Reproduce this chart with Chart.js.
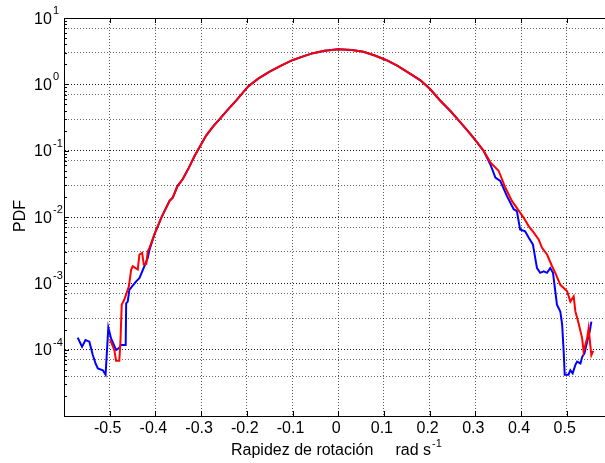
<!DOCTYPE html>
<html>
<head>
<meta charset="utf-8">
<script src="https://cdn.jsdelivr.net/npm/chart.js@4/dist/chart.umd.min.js"></script>
<style>
  html, body { margin: 0; padding: 0; background: #fff; overflow: hidden; }
  #wrap { width: 620px; height: 463px; }
</style>
</head>
<body>
<div id="wrap"><canvas id="pdf" width="620" height="463"></canvas></div>
<script>
// PDF of rotation rate, two runs on a log axis.
const FONT = "'Liberation Sans', Arial, sans-serif";

// central part, both runs overlap here
const coreRate = [-0.402, -0.387, -0.369, -0.362, -0.352, -0.340, -0.327, -0.314, -0.302, -0.289,
  -0.274, -0.259, -0.241, -0.223, -0.197, -0.175, -0.150, -0.125, -0.099, -0.075, -0.055, -0.030,
  0.000, 0.030, 0.055, 0.080, 0.106, 0.130, 0.157, 0.180, 0.201, 0.223, 0.245, 0.267, 0.289, 0.3035, 0.318];
const corePdf = [5.5e-3, 9.8e-3, 1.75e-2, 1.96e-2, 2.9e-2, 3.73e-2, 5.5e-2, 8.4e-2, 0.118, 0.169,
  0.23, 0.302, 0.42, 0.572, 0.93, 1.22, 1.55, 1.92, 2.33, 2.66, 2.95, 3.2,
  3.39, 3.3, 3.09, 2.72, 2.31, 1.9, 1.45, 1.15, 0.85, 0.57, 0.40, 0.27, 0.179, 0.134, 0.10];

// blue run tails
const blueLeftRate = [-0.570, -0.5605, -0.553, -0.5445, -0.537, -0.531, -0.526, -0.515, -0.509, -0.503,
  -0.497, -0.486, -0.479, -0.475, -0.465, -0.464, -0.4605, -0.457, -0.451, -0.442, -0.435, -0.424, -0.4167, -0.413];
const blueLeftPdf = [1.52e-4, 1.11e-4, 1.40e-4, 1.32e-4, 8.3e-5, 6.2e-5, 5.2e-5, 4.9e-5, 4.2e-5, 2.15e-4,
  1.48e-4, 9.9e-5, 1.07e-4, 1.18e-4, 1.18e-4, 5.0e-4, 5.3e-4, 8.0e-4, 9.0e-4, 1.07e-3, 1.2e-3, 1.81e-3, 2.42e-3, 3.2e-3];
const blueRightRate = [0.333, 0.344, 0.3546, 0.369, 0.384, 0.391, 0.398, 0.409, 0.4167, 0.426, 0.435,
  0.442, 0.4496, 0.457, 0.464, 0.470, 0.475, 0.4787, 0.486, 0.490, 0.4934, 0.4956, 0.504, 0.508, 0.513,
  0.519, 0.5228, 0.530, 0.534, 0.5388, 0.5447, 0.5504, 0.554];
const blueRightPdf = [6.2e-2, 3.94e-2, 3.5e-2, 2.08e-2, 1.31e-2, 1.23e-2, 6.5e-3, 6.1e-3, 4.9e-3, 3.86e-3, 1.7e-3,
  1.44e-3, 1.52e-3, 1.44e-3, 1.7e-3, 1.44e-3, 7.6e-4, 4.75e-4, 3.77e-4, 2.4e-4, 9.3e-5, 4.2e-5, 4.2e-5, 4.9e-5, 4.4e-5,
  5.9e-5, 6.6e-5, 6.2e-5, 7.8e-5, 8.8e-5, 1.32e-4, 1.87e-4, 2.65e-4];

// red run tails
const redLeftRate = [-0.499, -0.490, -0.486, -0.479, -0.4765, -0.4737, -0.468, -0.458, -0.453, -0.4496,
  -0.4386, -0.435, -0.429, -0.4254, -0.420, -0.4167, -0.413];
const redLeftPdf = [1.40e-4, 9.9e-5, 6.8e-5, 6.8e-5, 1.32e-4, 4.75e-4, 5.7e-4, 9.0e-4, 1.61e-3, 1.81e-3,
  1.61e-3, 2.72e-3, 2.88e-3, 1.92e-3, 1.96e-3, 3.05e-3, 3.43e-3];
const redRightRate = [0.333, 0.351, 0.3656, 0.380, 0.4057, 0.4167, 0.428, 0.4386, 0.446, 0.457, 0.468,
  0.475, 0.486, 0.501, 0.508, 0.5153, 0.519, 0.526, 0.5338, 0.537, 0.5447, 0.548, 0.552, 0.554, 0.558];
const redRightPdf = [6.66e-2, 4.98e-2, 2.78e-2, 1.75e-2, 9.8e-3, 7.3e-3, 5.8e-3, 4.6e-3, 3.43e-3, 2.72e-3, 1.81e-3,
  1.44e-3, 9.5e-4, 7.6e-4, 5.3e-4, 6.35e-4, 3.77e-4, 2.5e-4, 1.48e-4, 9.3e-5, 1.48e-4, 2.1e-4, 1.11e-4, 8.3e-5, 9.6e-5];

// axis ticks
const xTickLabels = [-0.5, -0.4, -0.3, -0.2, -0.1, 0, 0.1, 0.2, 0.3, 0.4, 0.5];
const yDecades = [-4, -3, -2, -1, 0, 1];

const pts = (xs, ys) => xs.map((x, i) => ({ x, y: ys[i] }));
const blue = pts([...blueLeftRate, ...coreRate, ...blueRightRate], [...blueLeftPdf, ...corePdf, ...blueRightPdf]);
const red = pts([...redLeftRate, ...coreRate, ...redRightRate], [...redLeftPdf, ...corePdf, ...redRightPdf]);

// box, inward ticks, superscript labels and titles
const frame = {
  id: "frame",
  afterDraw(chart) {
    const { ctx, chartArea: a, scales: { x, y } } = chart;
    ctx.save();
    ctx.strokeStyle = "#000"; ctx.lineWidth = 1;
    ctx.beginPath();
    ctx.moveTo(a.left, a.top + 0.5); ctx.lineTo(a.right, a.top + 0.5);
    ctx.moveTo(a.right - 0.5, a.top); ctx.lineTo(a.right - 0.5, a.bottom);
    for (let v = -0.6; v <= 0.601; v += 0.1) {
      const px = Math.round(x.getPixelForValue(v)) + 0.5;
      ctx.moveTo(px, a.bottom); ctx.lineTo(px, a.bottom - 5);
      ctx.moveTo(px, a.top); ctx.lineTo(px, a.top + 5);
    }
    for (let k = -5; k <= 1; k++) {
      for (let m = 1; m <= 9; m++) {
        const v = m * Math.pow(10, k);
        if (v > 10.0001) break;
        const py = Math.round(y.getPixelForValue(v)) + 0.5;
        const len = m === 1 ? 5 : 3;
        ctx.moveTo(a.left, py); ctx.lineTo(a.left + len, py);
      }
    }
    ctx.stroke();

    ctx.fillStyle = "#000";
    ctx.textBaseline = "alphabetic";
    yDecades.forEach((k) => {
      const py = y.getPixelForValue(Math.pow(10, k));
      ctx.font = "16px " + FONT; ctx.textAlign = "left";
      ctx.fillText("10", 34, py + 5.5);
      ctx.font = "11px " + FONT;
      ctx.fillText(String(k), 53, py - 4);
    });

    // x title with unit superscript
    ctx.font = "16px " + FONT; ctx.textAlign = "left";
    const main = "Rapidez de rotación     rad s";
    ctx.fillText(main, 231, 455);
    const w = ctx.measureText(main).width;
    ctx.font = "11px " + FONT;
    ctx.fillText("-1", 231 + w + 1, 447);

    // y title
    ctx.font = "16px " + FONT;
    ctx.translate(21, 216); ctx.rotate(-Math.PI / 2);
    ctx.textAlign = "center"; ctx.textBaseline = "middle";
    ctx.fillText("PDF", 0, 0);
    ctx.restore();
  }
};

new Chart(document.getElementById("pdf"), {
  type: "line",
  data: {
    datasets: [
      { label: "blue", data: blue, borderColor: "#0000ff", borderWidth: 2, pointRadius: 0, tension: 0, order: 1 },
      { label: "red", data: red, borderColor: "#ff0000", borderWidth: 2, pointRadius: 0, tension: 0, order: 0 }
    ]
  },
  options: {
    responsive: false,
    animation: false,
    devicePixelRatio: 1,
    layout: { padding: { top: 18, right: 7.6, left: 0, bottom: 0 } },
    plugins: { legend: { display: false }, tooltip: { enabled: false } },
    scales: {
      x: {
        type: "linear", min: -0.6, max: 0.6,
        afterFit: (s) => { s.height = 47; },
        ticks: {
          stepSize: 0.1, padding: 3, color: "#000", labelOffset: -2,
          font: { family: FONT, size: 16 },
          callback: (v) => {
            const r = Math.round(v * 10) / 10;
            return xTickLabels.includes(r) ? (r === 0 ? "0" : r.toFixed(1)) : "";
          }
        },
        grid: { color: "rgba(0,0,0,0.65)", lineWidth: 1, drawTicks: false },
        border: { color: "#000", width: 1, dash: [1, 2] }
      },
      y: {
        type: "logarithmic", min: 1e-5, max: 10,
        afterFit: (s) => { s.width = 64; },
        ticks: { callback: () => "", padding: 0 },
        grid: {
          drawTicks: false, lineWidth: 1,
          color: (c) => {
            const v = c.tick ? c.tick.value : 1;
            const l = Math.log10(v);
            return Math.abs(l - Math.round(l)) < 1e-6 ? "rgba(0,0,0,0.9)" : "rgba(0,0,0,0.6)";
          }
        },
        border: { color: "#000", width: 1, dash: [1, 2] }
      }
    }
  },
  plugins: [frame]
});
</script>
</body>
</html>
